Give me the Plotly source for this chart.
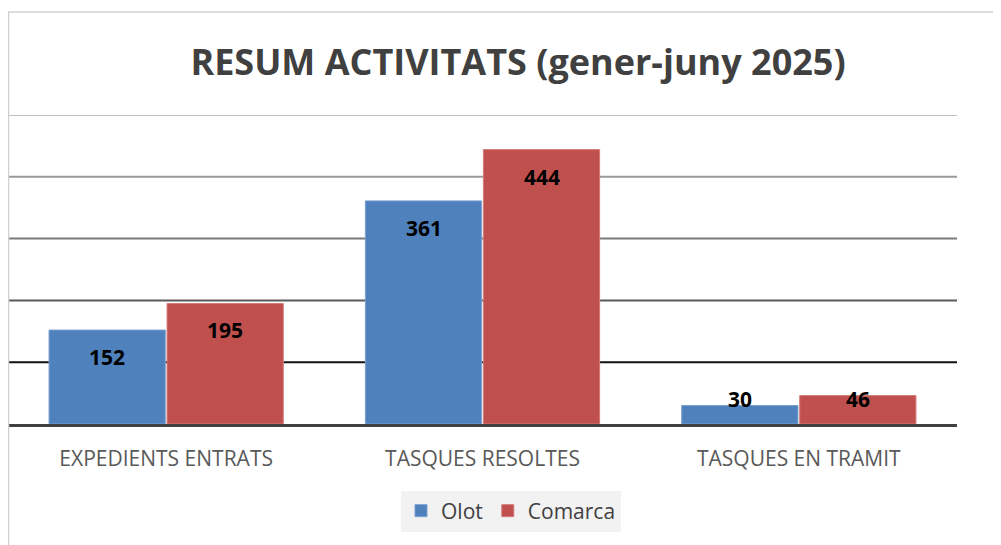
import plotly.graph_objects as go

# ---- data ----
categories = ["EXPEDIENTS ENTRATS", "TASQUES RESOLTES", "TASQUES EN TRAMIT"]
series_names = ["Olot", "Comarca"]
olot = [152, 361, 30]
comarca = [195, 444, 46]
grid_values = [100, 200, 300, 400, 500]
title_text = "RESUM ACTIVITATS (gener-juny 2025)"

# ---- layout constants (page has an 8px body margin) ----
OFF = 8
PAGE_W, PAGE_H = 1001, 545
W, H = PAGE_W - OFF, PAGE_H - OFF
PLOT_L, PLOT_R, PLOT_T, PLOT_B = 8, 957, 115, 424  # page pixels
ML, MR = PLOT_L - OFF, PAGE_W - PLOT_R
MT, MB = PLOT_T - OFF, PAGE_H - PLOT_B
PW, PH = W - ML - MR, H - MT - MB
YMAX = 500
BARGAP = 0.254
ppu = PH / YMAX  # pixels per data unit

colors = ["#4F81BD", "#C0504D"]
edge_colors = ["#7A9FD0", "#D27B78"]
grid_colors = ["#111111", "#5A5A5A", "#7A7A7A", "#9A9A9A", "#C0C0C0"]
FONT = "Open Sans"


def px_x(px):  # page px -> paper x
    return (px - OFF - ML) / PW


def px_y(py):  # page px -> paper y
    return (PAGE_H - MB - py) / PH


fig = go.Figure()
for name, vals, c, ec in zip(series_names, [olot, comarca], colors, edge_colors):
    fig.add_trace(go.Bar(
        x=categories, y=vals, name=name,
        marker=dict(color=c, line=dict(color=ec, width=1)),
        hoverinfo="x+y+name",
    ))

# data labels (inside end, clamped near the baseline for short bars)
annotations = []
for si, vals in enumerate([olot, comarca]):
    for ci, v in enumerate(vals):
        ylab = max(v - 27 / ppu, 25 / ppu)
        annotations.append(dict(
            x=ci + (si - 0.5) * (1 - BARGAP) / 2,
            y=ylab, xref="x", yref="y", text=f"<b>{v}</b>", showarrow=False,
            font=dict(family=FONT, size=21, color="#000000"),
            xanchor="center", yanchor="middle",
        ))

shapes = []
for gv, gc in zip(grid_values, grid_colors):
    shapes.append(dict(type="line", xref="paper", yref="y", x0=0, x1=1, y0=gv, y1=gv,
                       line=dict(color=gc, width=2), layer="below"))
# outer chart border (top and left)
shapes.append(dict(type="line", xref="paper", yref="paper",
                   x0=px_x(OFF), x1=px_x(PAGE_W), y0=px_y(12), y1=px_y(12),
                   line=dict(color="#D0D0D0", width=1.5)))
shapes.append(dict(type="line", xref="paper", yref="paper",
                   x0=px_x(OFF + 0.5), x1=px_x(OFF + 0.5), y0=px_y(12), y1=px_y(PAGE_H),
                   line=dict(color="#D0D0D0", width=1.5)))

fig.update_layout(
    width=W, height=H,
    margin=dict(l=ML, r=MR, t=MT, b=MB, pad=0, autoexpand=False),
    paper_bgcolor="white", plot_bgcolor="white",
    barmode="group", bargap=BARGAP, bargroupgap=0.015,
    title=dict(text=f"<b>{title_text}</b>", x=(518 - OFF) / W, xanchor="center",
               y=1 - (62 - OFF) / H, yanchor="middle", yref="container",
               font=dict(family=FONT, size=36, color="#404040")),
    xaxis=dict(showgrid=False, showline=True, linecolor="#404040", linewidth=3,
               ticks="outside", ticklen=14, tickcolor="rgba(0,0,0,0)",
               tickfont=dict(family=FONT, size=21, color="#595959"),
               tickangle=0, automargin=False,
               range=[-0.5, 2.5], fixedrange=True),
    yaxis=dict(range=[0, YMAX], showgrid=False, showticklabels=False, zeroline=False,
               showline=False, ticks="", fixedrange=True, automargin=False),
    legend=dict(orientation="h", x=px_x(511), xanchor="center",
                y=px_y(511), yanchor="middle",
                bgcolor="#F2F2F2", font=dict(family=FONT, size=21, color="#404040"),
                itemwidth=30, traceorder="normal"),
    shapes=shapes,
    annotations=annotations,
    showlegend=True,
)

fig.write_html("out.html")
